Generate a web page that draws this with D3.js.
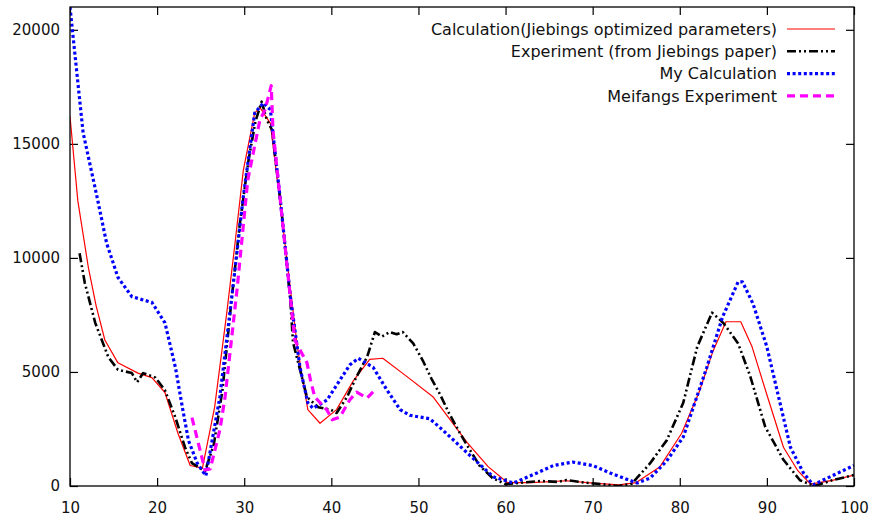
<!DOCTYPE html>
<html>
<head>
<meta charset="utf-8">
<script src="https://cdn.jsdelivr.net/npm/d3@7"></script>
<style>
  body { margin: 0; background: #fff; }
  .tick text { font-family: "DejaVu Sans", Verdana, sans-serif; font-size: 15px; fill: #111; }
  .legend text { font-family: "DejaVu Sans", Verdana, sans-serif; font-size: 16px; fill: #111; }
</style>
</head>
<body>
<div id="chart"></div>
<script>
// ======================================
// Data
// ======================================
var xTicks = [10, 20, 30, 40, 50, 60, 70, 80, 90, 100];
var yTicks = [0, 5000, 10000, 15000, 20000];

var seriesNames = [
  "Calculation(Jiebings optimized parameters)",
  "Experiment (from Jiebings paper)",
  "My Calculation",
  "Meifangs Experiment"
];

// Calculation (Jiebings optimized parameters)
var calcX = [10, 10.9, 12.1, 13, 14, 15.5, 17.8, 19.4, 20.9, 22.4, 23.8, 25.2, 26.6, 28, 28.9, 29.9, 31.2, 31.8,
  33, 34.5, 36.1, 37.3, 38.7, 40.6, 42.5, 44.4, 45.9, 48.5, 51.7, 55.6, 58, 60.2, 63, 67, 70, 73, 75, 77.7,
  80.2, 82.2, 83.8, 85.3, 87, 88.3, 90, 91.9, 93.5, 95, 97.5, 100];
var calcY = [16200, 12500, 9600, 7900, 6400, 5400, 4950, 4750, 4100, 2300, 900, 780, 3450, 7600, 10500, 13850, 16350, 16600,
  15900, 11200, 6100, 3350, 2750, 3350, 4600, 5550, 5600, 4850, 3900, 1900, 850, 150, 150, 230, 130, 50, 150, 830,
  2300, 4100, 5900, 7200, 7200, 6100, 4000, 1700, 700, 80, 250, 480];

// Experiment (from Jiebings paper)
var expX = [11.1, 11.7, 12.9, 14.4, 15.5, 17.1, 17.7, 18.4, 19.8, 20.9, 22.1, 23.2, 24, 25.5, 26.5, 27.5, 28.5, 29.5,
  30.5, 31.3, 32, 32.6, 33.2, 34.3, 35.3, 35.6, 37.2, 38.5, 39.9, 40.6, 41.8, 42.9, 44.1, 44.8, 45, 45.8, 46.7,
  47.5, 48.2, 49.4, 50.5, 51.5, 52.5, 53.5, 54.5, 55.4, 57, 58.5, 60, 62, 64, 66, 67, 69, 71, 73, 74.5, 76.6,
  78.5, 80.4, 82, 83.7, 85, 86.7, 88.1, 89.8, 91.9, 93.8, 95.5, 97.5, 100];
var expY = [10200, 8900, 7150, 5650, 5100, 4950, 4550, 4950, 4750, 4200, 3000, 1700, 1000, 650, 1800, 4200, 8000, 11500,
  14300, 16000, 16850, 16050, 15600, 12000, 8100, 6300, 3900, 3450, 3350, 3200, 3900, 4800, 5650, 6500, 6750, 6550, 6750,
  6650, 6750, 6250, 5500, 4700, 4000, 3200, 2500, 1900, 900, 350, 80, 150, 220, 180, 260, 150, 80, 0, 100, 1000,
  2000, 3650, 6100, 7600, 7150, 6250, 4800, 2600, 1150, 250, 0, 250, 480];

// My Calculation
var myX = [10, 11.5, 13.2, 14.2, 15.5, 17.1, 19.4, 20.9, 22.1, 22.9, 23.6, 24.6, 25.6, 27.2, 28.7, 29.9, 31.2, 32.2,
  33, 34.1, 35.3, 36.4, 37.3, 37.9, 39.5, 41, 42.1, 43.1, 44.8, 46.4, 47.9, 49, 51.3, 52.8, 55.6, 58.6, 60.9, 63.6,
  65.5, 67.7, 70, 72, 75.1, 76.6, 78.5, 80.4, 83.1, 84.9, 86.7, 87.2, 88.4, 90, 91.5, 92.7, 94.2, 95.3, 97.5, 100];
var myY = [21000, 15500, 12500, 10650, 9150, 8300, 8050, 7150, 5200, 3450, 2000, 1000, 450, 3900, 8700, 12700, 16350, 16800,
  16500, 12700, 8300, 5200, 3650, 3400, 3770, 4650, 5300, 5600, 5200, 4200, 3350, 3100, 2950, 2450, 1450, 400, 130, 570,
  900, 1050, 900, 570, 130, 350, 1100, 2150, 5200, 7400, 8950, 8950, 8000, 6100, 3650, 1700, 570, 50, 450, 900];

// Meifangs Experiment
var meiX = [24, 25.5, 26.1, 27.2, 27.8, 29.2, 30.4, 31.8, 32.4, 33.1, 33.3, 34.5, 35.8, 37.2, 37.6, 38.1, 39.5, 40.1,
  41, 42.1, 42.9, 44.1, 45];
var meiY = [3000, 700, 750, 2450, 3900, 8700, 13400, 16050, 16500, 17550, 15600, 11200, 6400, 5400, 4650, 3900, 3330, 2900,
  3030, 3770, 4120, 3860, 4210];

// ======================================
// Layout
// ======================================
var svgWidth = 874;
var svgHeight = 523;

var margin = { top: 7, right: 20, bottom: 37, left: 70 };
var width = svgWidth - margin.left - margin.right;
var height = svgHeight - margin.top - margin.bottom;

var styles = [
  { color: "#ff0000", width: 1.2, dash: null },
  { color: "#000000", width: 2.6, dash: "9,3,2,3,2,3" },
  { color: "#0000ff", width: 3.2, dash: "3,2.6" },
  { color: "#ff00ff", width: 3.2, dash: "8,5" }
];

var svg = d3.select("#chart")
  .append("svg")
  .attr("width", svgWidth)
  .attr("height", svgHeight);

var chartGroup = svg.append("g")
  .attr("transform", `translate(${margin.left}, ${margin.top})`);

var xLinearScale = d3.scaleLinear().domain([10, 100]).range([0, width]);
var yLinearScale = d3.scaleLinear().domain([0, 21000]).range([height, 0]);

// axes with inward ticks (gnuplot style), mirrored on top/right
var bottomAxis = d3.axisBottom(xLinearScale).tickValues(xTicks).tickSizeInner(-8).tickSizeOuter(0).tickPadding(13);
var topAxis = d3.axisTop(xLinearScale).tickValues(xTicks).tickSizeInner(-8).tickSizeOuter(0).tickFormat("");
var leftAxis = d3.axisLeft(yLinearScale).tickValues(yTicks).tickSizeInner(-8).tickSizeOuter(0).tickPadding(10).tickFormat(d3.format("d"));
var rightAxis = d3.axisRight(yLinearScale).tickValues(yTicks).tickSizeInner(-8).tickSizeOuter(0).tickFormat("");

function styleAxis(g) {
  g.select(".domain").remove();
  g.selectAll(".tick line").attr("stroke", "#000").attr("stroke-width", 1.2);
}

chartGroup.append("g").attr("transform", `translate(0, ${height})`).call(bottomAxis).call(styleAxis)
  .selectAll("text").attr("dy", "0.9em");
chartGroup.append("g").call(topAxis).call(styleAxis);
chartGroup.append("g").call(leftAxis).call(styleAxis);
chartGroup.append("g").attr("transform", `translate(${width}, 0)`).call(rightAxis).call(styleAxis);

chartGroup.selectAll(".tick text").attr("font-family", null).attr("font-size", null);

// clip for the curves
chartGroup.append("clipPath").attr("id", "plot-clip")
  .append("rect").attr("width", width).attr("height", height);

var line = d3.line()
  .x(d => xLinearScale(d[0]))
  .y(d => yLinearScale(d[1]));

var allSeries = [
  d3.zip(calcX, calcY),
  d3.zip(expX, expY),
  d3.zip(myX, myY),
  d3.zip(meiX, meiY)
];

var curvesGroup = chartGroup.append("g").attr("clip-path", "url(#plot-clip)");

allSeries.forEach((pts, i) => {
  curvesGroup.append("path")
    .datum(pts)
    .attr("fill", "none")
    .attr("stroke", styles[i].color)
    .attr("stroke-width", styles[i].width)
    .attr("stroke-dasharray", styles[i].dash)
    .attr("stroke-linejoin", "round")
    .attr("d", line);
});

// frame
chartGroup.append("rect")
  .attr("width", width)
  .attr("height", height)
  .attr("fill", "none")
  .attr("stroke", "#000")
  .attr("stroke-width", 1.3);

// legend (top right, text right-aligned before the sample line)
var legend = chartGroup.append("g").attr("class", "legend");
seriesNames.forEach((name, i) => {
  var cy = 22 + i * 22.3;
  legend.append("text")
    .attr("x", 707)
    .attr("y", cy)
    .attr("dy", "0.35em")
    .attr("text-anchor", "end")
    .text(name);
  legend.append("line")
    .attr("x1", 717)
    .attr("x2", 765)
    .attr("y1", cy)
    .attr("y2", cy)
    .attr("stroke", styles[i].color)
    .attr("stroke-width", styles[i].width)
    .attr("stroke-dasharray", styles[i].dash);
});
</script>
</body>
</html>
